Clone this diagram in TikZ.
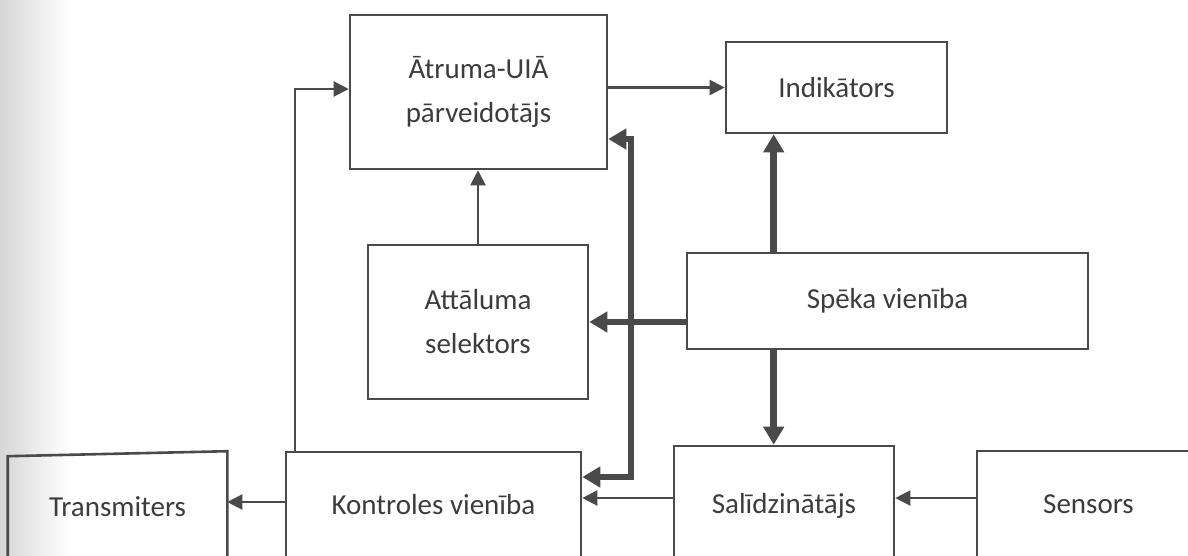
\documentclass[tikz,border=0pt]{standalone}
\usepackage{fontspec}
\setmainfont{Carlito}
\usetikzlibrary{arrows.meta,calc}
\definecolor{ink}{HTML}{4A4A4A}
\definecolor{txt}{HTML}{3C3C3C}
\begin{document}
\begin{tikzpicture}[x=1pt,y=-1pt,
  box/.style={rectangle, draw=ink, line width=2.6pt, text=txt, align=center, inner sep=0pt,
    font=\fontsize{29}{44}\selectfont},
  tipthin/.tip={Triangle[length=15pt,width=15pt]},
  tipthick/.tip={Triangle[length=18pt,width=20pt]},
  thinarrow/.style={draw=ink, line width=2.2pt, -tipthin},
  thickarrow/.style={draw=ink, line width=6.5pt, -tipthick, line join=miter},
  boxline/.style={draw=ink, line width=2.6pt}]
\useasboundingbox (0,0) rectangle (1188,555);
\clip (0,0) rectangle (1188,555);
\shade[left color=black!16, right color=white] (0,0) rectangle (70,555);

% boxes
\node[box, minimum width=257pt, minimum height=154pt] (atr) at (478.5,92) {Ātruma-UIĀ\\pārveidotājs};
\node[box, minimum width=221pt, minimum height=91pt] (ind) at (836.5,87.5) {Indikātors};
\node[box, minimum width=220pt, minimum height=154pt] (att) at (478,322) {Attāluma\\selektors};
\node[box, minimum width=401pt, minimum height=96pt] (spk) at (887.5,301) {Spēka vienība};
\node[box, draw=none, minimum width=217pt, minimum height=110pt] (trn) at (117.5,510) {\raisebox{7pt}{Transmiters}};
\draw[boxline] (trn.south west) -- ([yshift=-2.5pt]trn.north west) -- ([yshift=2.5pt]trn.north east) -- (trn.south east);
\node[box, minimum width=295pt, minimum height=113pt] (kont) at (433.5,508.5) {\raisebox{8pt}{Kontroles vienība}};
\node[box, minimum width=220pt, minimum height=119pt] (sal) at (784,505.5) {\raisebox{5pt}{Salīdzinātājs}};
\node[box, minimum width=223pt, minimum height=114pt] (sen) at (1088.5,508) {\raisebox{7pt}{Sensors}};

% coordinates
\path (kont.north west) ++(10,0) coordinate (kup);
\path (spk.north west) ++(88,0) coordinate (sv);
\coordinate (b1) at (631,139);
\coordinate (b2) at (631,477);
\coordinate (r1) at (0,498);
\coordinate (r2) at (0,502);

% thin connectors
\draw[thinarrow] (kup) |- ([yshift=3pt]atr.west);
\draw[thinarrow] (atr.east |- ind.west) -- (ind.west);
\draw[thinarrow] (att.north) -- (att.north |- atr.south);
\draw[thinarrow] (sal.west |- r1) -- (kont.east |- r1);
\draw[thinarrow] (sen.west |- r1) -- (sal.east |- r1);
\draw[thinarrow] (kont.west |- r2) -- (trn.east |- r2);

% thick connectors
\draw[thickarrow] (sv) -- (sv |- ind.south);
\draw[thickarrow] (spk.south -| sv) -- (sv |- sal.north);
\draw[thickarrow] (spk.west |- att.east) -- (att.east);
\draw[thickarrow, tipthick-tipthick] (atr.east |- b1) -- (b1) -- (b2) -- (kont.east |- b2);
\fill[ink] (b1 |- att.east) circle (4.5pt);
\end{tikzpicture}
\end{document}
